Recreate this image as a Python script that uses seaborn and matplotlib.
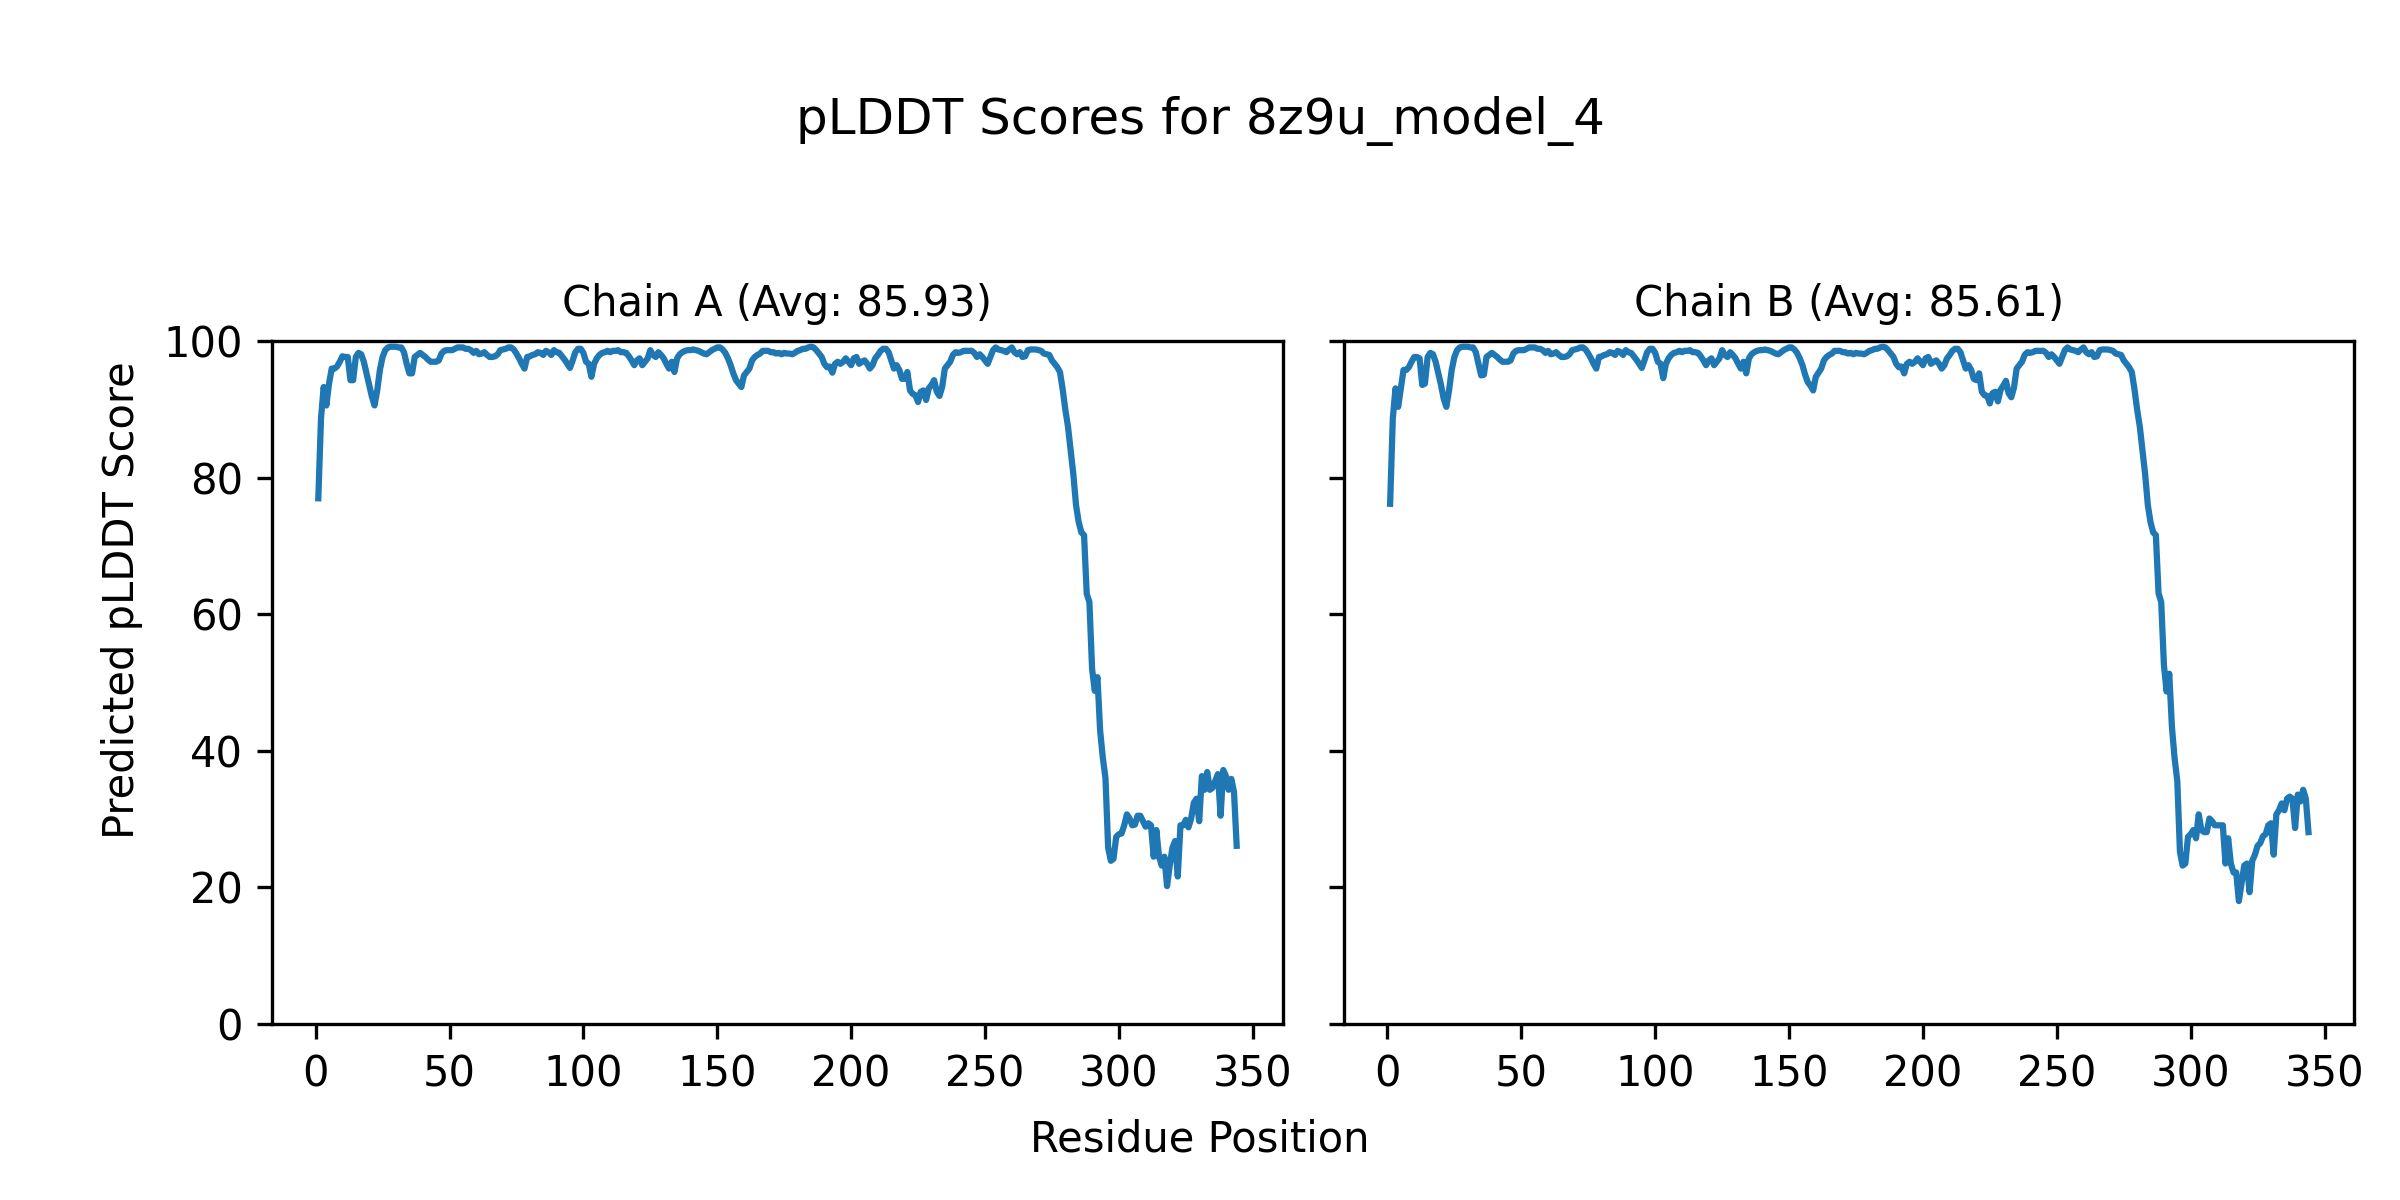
import pandas as pd
import matplotlib
matplotlib.use("Agg")
import matplotlib.pyplot as plt
import numpy as np
import seaborn as sns

model_name = "8z9u_model_4"
chain_names = ["A", "B"]
chain_avgs = [85.93, 85.61]

# per-residue pLDDT (residues 1..344)
plddt_a = [
    77.0, 88.7, 93.3, 90.6, 93.8, 96.0, 96.0, 96.3, 97.0, 97.8,
    97.7, 97.7, 94.3, 94.3, 97.7, 98.3, 98.1, 97.0, 95.3, 93.6,
    91.9, 90.6, 92.8, 95.8, 97.7, 98.7, 99.1, 99.2, 99.2, 99.2,
    99.1, 99.1, 98.4, 96.7, 95.3, 95.3, 97.7, 98.0, 98.3, 98.0,
    97.7, 97.3, 97.0, 97.0, 97.0, 97.2, 98.2, 98.6, 98.7, 98.7,
    98.7, 98.9, 99.1, 99.1, 99.1, 98.9, 98.9, 98.7, 98.3, 98.6,
    98.1, 98.2, 98.4, 98.0, 97.7, 97.7, 97.8, 98.1, 98.7, 98.8,
    98.9, 99.1, 99.1, 98.8, 98.2, 97.5, 96.7, 96.0, 97.7, 97.8,
    98.0, 98.1, 98.4, 98.3, 98.0, 98.6, 98.4, 98.0, 98.7, 98.4,
    98.3, 97.8, 97.3, 96.7, 96.1, 97.2, 98.4, 98.9, 98.9, 98.3,
    97.0, 96.7, 94.8, 96.7, 97.5, 98.0, 98.3, 98.4, 98.6, 98.4,
    98.6, 98.6, 98.7, 98.4, 98.4, 98.3, 97.8, 97.2, 96.5, 97.2,
    97.5, 96.5, 97.0, 97.5, 98.7, 98.0, 97.7, 98.4, 98.0, 97.5,
    96.7, 96.0, 97.0, 95.5, 97.5, 98.1, 98.4, 98.6, 98.7, 98.7,
    98.8, 98.7, 98.6, 98.4, 98.2, 98.1, 98.4, 98.7, 98.9, 99.1,
    99.1, 98.8, 98.3, 97.5, 96.5, 95.3, 94.3, 93.8, 93.3, 95.0,
    95.5, 96.0, 97.2, 97.7, 98.0, 98.2, 98.6, 98.6, 98.6, 98.4,
    98.4, 98.2, 98.3, 98.1, 98.3, 98.2, 98.2, 98.1, 98.3, 98.6,
    98.7, 98.9, 98.9, 99.1, 99.2, 99.1, 98.7, 98.2, 97.7, 96.7,
    96.2, 96.3, 95.4, 96.7, 97.0, 96.7, 97.0, 97.5, 97.0, 96.5,
    97.5, 97.7, 96.7, 97.0, 97.2, 96.7, 96.0, 96.5, 97.5, 98.0,
    98.6, 98.9, 98.9, 98.4, 97.2, 96.0, 96.5, 95.8, 94.5, 94.5,
    95.5, 92.8, 92.3, 92.1, 91.1, 92.6, 92.8, 91.4, 93.1, 93.6,
    94.3, 92.6, 92.0, 93.3, 96.0, 96.5, 97.0, 98.0, 98.4, 98.3,
    98.4, 98.6, 98.6, 98.6, 98.6, 98.3, 97.7, 98.1, 97.7, 97.2,
    96.7, 97.7, 98.7, 99.1, 98.8, 98.7, 98.6, 98.4, 98.8, 99.1,
    98.4, 98.1, 98.4, 97.7, 97.8, 98.7, 98.8, 98.8, 98.8, 98.7,
    98.6, 98.2, 98.1, 98.0, 97.2, 96.7, 96.2, 95.5, 93.0, 90.0,
    87.5, 84.0, 80.5, 76.0, 73.5, 72.0, 71.6, 63.0, 61.8, 52.0,
    48.8, 50.8, 43.0, 39.0, 36.0, 25.8, 23.9, 24.2, 27.4, 27.8,
    27.9, 29.1, 30.7, 30.1, 29.1, 29.2, 30.5, 30.5, 29.7, 28.9,
    29.4, 29.1, 24.5, 28.4, 24.5, 23.2, 24.5, 20.2, 23.2, 25.8,
    26.8, 21.6, 29.1, 29.1, 29.9, 28.8, 30.1, 32.4, 33.0, 29.7,
    36.3, 34.3, 36.9, 34.3, 34.6, 35.6, 36.6, 30.5, 37.2, 36.3,
    34.3, 35.9, 34.0, 26.1,
]

plddt_b = [
    76.2, 88.7, 93.1, 90.4, 93.1, 95.8, 95.8, 96.2, 97.0, 97.7,
    97.7, 97.5, 93.6, 93.8, 97.7, 98.3, 98.1, 97.0, 95.3, 93.6,
    91.6, 90.4, 92.8, 95.8, 97.7, 98.7, 99.1, 99.2, 99.2, 99.2,
    99.1, 99.1, 98.4, 96.7, 95.0, 95.1, 97.7, 98.0, 98.3, 98.0,
    97.7, 97.3, 97.0, 97.0, 97.0, 97.2, 98.2, 98.6, 98.7, 98.7,
    98.7, 98.9, 99.1, 99.1, 99.1, 98.9, 98.9, 98.7, 98.3, 98.6,
    98.1, 98.2, 98.4, 98.0, 97.7, 97.7, 97.8, 98.1, 98.7, 98.8,
    98.9, 99.1, 99.1, 98.8, 98.2, 97.5, 96.7, 96.0, 97.7, 97.8,
    98.0, 98.1, 98.4, 98.3, 98.0, 98.6, 98.4, 98.0, 98.7, 98.4,
    98.3, 97.8, 97.3, 96.7, 96.1, 97.2, 98.4, 98.9, 98.9, 98.3,
    97.0, 96.7, 94.6, 96.7, 97.5, 98.0, 98.3, 98.4, 98.6, 98.4,
    98.6, 98.6, 98.7, 98.4, 98.4, 98.3, 97.8, 97.2, 96.5, 97.2,
    97.5, 96.5, 97.0, 97.5, 98.7, 98.0, 97.7, 98.4, 98.0, 97.5,
    96.7, 96.0, 97.0, 95.3, 97.5, 98.1, 98.4, 98.6, 98.7, 98.7,
    98.8, 98.7, 98.6, 98.4, 98.2, 98.1, 98.4, 98.7, 98.9, 99.1,
    99.1, 98.8, 98.3, 97.5, 96.5, 95.1, 94.0, 93.5, 92.8, 94.8,
    95.4, 96.0, 97.2, 97.7, 98.0, 98.2, 98.6, 98.6, 98.6, 98.4,
    98.4, 98.2, 98.3, 98.1, 98.3, 98.2, 98.2, 98.1, 98.3, 98.6,
    98.7, 98.9, 98.9, 99.1, 99.2, 99.1, 98.7, 98.2, 97.7, 96.7,
    96.2, 96.3, 95.3, 96.7, 97.0, 96.7, 97.0, 97.5, 97.0, 96.5,
    97.5, 97.7, 96.7, 97.0, 97.2, 96.7, 96.0, 96.5, 97.5, 98.0,
    98.6, 98.9, 98.9, 98.4, 97.2, 96.0, 96.5, 95.8, 94.5, 94.3,
    95.3, 92.6, 92.1, 92.0, 90.9, 92.4, 92.6, 91.2, 92.9, 93.5,
    94.2, 92.4, 91.8, 93.2, 96.0, 96.5, 97.0, 98.0, 98.4, 98.3,
    98.4, 98.6, 98.6, 98.6, 98.6, 98.3, 97.7, 98.1, 97.7, 97.2,
    96.7, 97.7, 98.7, 99.1, 98.8, 98.7, 98.6, 98.4, 98.8, 99.1,
    98.4, 98.1, 98.4, 97.7, 97.8, 98.7, 98.8, 98.8, 98.8, 98.7,
    98.6, 98.2, 98.1, 98.0, 97.2, 96.7, 96.2, 95.5, 93.0, 90.0,
    87.5, 84.0, 80.5, 76.0, 73.5, 72.0, 71.6, 63.1, 61.8, 52.6,
    48.7, 51.3, 43.5, 38.9, 35.6, 25.2, 23.2, 23.5, 27.4, 27.8,
    28.4, 27.2, 30.7, 28.4, 28.1, 28.1, 30.1, 29.7, 29.1, 29.1,
    29.1, 29.1, 23.5, 27.2, 23.5, 22.2, 22.2, 18.0, 20.6, 23.2,
    23.5, 19.3, 23.9, 24.8, 26.1, 26.5, 27.5, 27.8, 29.1, 29.4,
    24.8, 30.7, 31.3, 32.3, 31.3, 33.0, 33.3, 33.0, 28.7, 33.6,
    32.6, 34.3, 33.0, 28.1,
]

frames = []
for name, vals in zip(chain_names, [plddt_a, plddt_b]):
    frames.append(pd.DataFrame({
        "chain": name,
        "residue": np.arange(1, len(vals) + 1),
        "plddt": vals,
    }))
df = pd.concat(frames, ignore_index=True)

fig, axes = plt.subplots(1, 2, figsize=(8, 4), dpi=300, sharey=True)

for ax, name, avg in zip(axes, chain_names, chain_avgs):
    sub = df[df["chain"] == name]
    sns.lineplot(data=sub, x="residue", y="plddt", ax=ax, color="#1f77b4", linewidth=1.5)
    ax.set_title(f"Chain {name} (Avg: {avg:.2f})", fontsize=10)
    ax.set_xlabel("")
    ax.set_ylabel("")
    ax.set_ylim(0, 100)
    ax.set_xticks(np.arange(0, 351, 50))

fig.suptitle(f"pLDDT Scores for {model_name}", fontsize=12, y=0.92)
fig.supxlabel("Residue Position", fontsize=10, y=0.033)
fig.supylabel("Predicted pLDDT Score", fontsize=10, x=0.042)
fig.subplots_adjust(left=0.1135, right=0.981, bottom=0.1467, top=0.7156, wspace=0.061)

fig.savefig("out.png", dpi=300)
